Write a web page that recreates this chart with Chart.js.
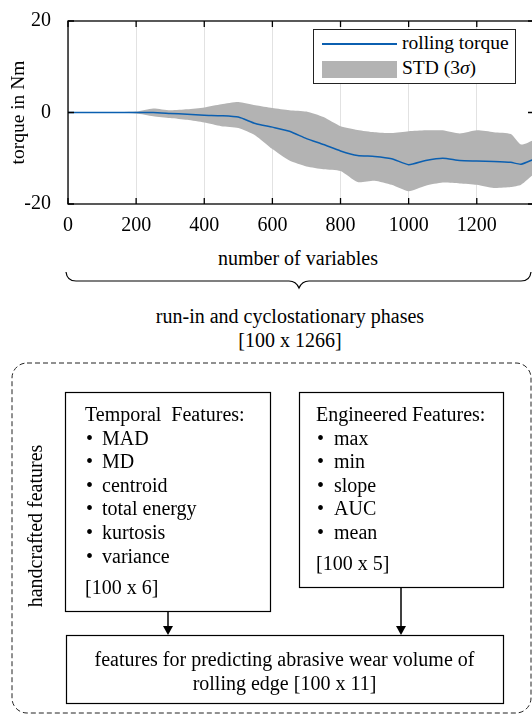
<!DOCTYPE html>
<html>
<head>
<meta charset="utf-8">
<script src="https://cdn.jsdelivr.net/npm/chart.js@4.4.1/dist/chart.umd.min.js"></script>
<style>
html, body { margin: 0; padding: 0; width: 532px; height: 714px; overflow: hidden; background: #fff; }
body { position: relative; font-family: 'Liberation Serif', 'Times New Roman', serif; color: #000; }
#plot { position: absolute; left: 0; top: 0; }
.t { position: absolute; font-size: 20px; line-height: 24px; white-space: pre; }
.c { text-align: center; }
.blk { position: absolute; font-size: 20px; line-height: 23.6px; }
.blk div { white-space: pre; }
.b { display: inline-block; width: 17px; padding-left: 1px; box-sizing: border-box; }
.b2 { display: inline-block; width: 18px; padding-left: 1px; box-sizing: border-box; }
#legend { position: absolute; left: 313px; top: 29px; width: 203px; height: 55px; border: 1px solid #222; background: #fff; box-sizing: border-box; }
svg { position: absolute; left: 0; top: 0; }
</style>
</head>
<body>
<canvas id="plot" width="536" height="240"></canvas>

<div id="legend"></div>
<div style="position:absolute;left:322px;top:43px;width:75px;height:1.5px;background:#0b5fb0"></div>
<div style="position:absolute;left:322px;top:61px;width:75px;height:17px;background:#b3b3b3"></div>
<div class="t" style="left:402px;top:31px;font-size:19.5px">rolling torque</div>
<div class="t" style="left:402px;top:56px;font-size:19.5px">STD (3<i>σ</i>)</div>

<div class="t c" style="left:148px;width:300px;top:246px">number of variables</div>
<div class="t c" style="left:90px;width:400px;top:304px">run-in and cyclostationary phases</div>
<div class="t c" style="left:90px;width:400px;top:328px">[100 x 1266]</div>

<svg width="532" height="714" viewBox="0 0 532 714">
  <path d="M66,272 Q67,281 76,281 L289,281 Q296,281 299,288 Q302,281 309,281 L521,281 Q530,281 531,272" fill="none" stroke="#000" stroke-width="1.2"/>
  <rect x="12" y="363" width="519" height="350" rx="15" ry="15" fill="none" stroke="#222" stroke-width="1" stroke-dasharray="5 3"/>
  <rect x="65.5" y="392.5" width="205" height="219" fill="none" stroke="#000" stroke-width="1.2"/>
  <rect x="299.5" y="392.5" width="204" height="195" fill="none" stroke="#000" stroke-width="1.2"/>
  <rect x="66.5" y="635.5" width="437" height="68" fill="none" stroke="#000" stroke-width="1.2"/>
  <line x1="168" y1="612" x2="168" y2="628" stroke="#000" stroke-width="1.5"/>
  <polygon points="163,626 173,626 168,635" fill="#000"/>
  <line x1="401" y1="588" x2="401" y2="628" stroke="#000" stroke-width="1.5"/>
  <polygon points="396,626 406,626 401,635" fill="#000"/>
</svg>

<div class="t c" style="left:-65px;width:200px;top:514px;transform:rotate(-90deg)">handcrafted features</div>

<div class="blk" style="left:85px;top:403px"><div>Temporal  Features:</div><div><span class="b">•</span>MAD</div><div><span class="b">•</span>MD</div><div><span class="b">•</span>centroid</div><div><span class="b">•</span>total energy</div><div><span class="b">•</span>kurtosis</div><div><span class="b">•</span>variance</div><div style="margin-top:8px">[100 x 6]</div></div>

<div class="blk" style="left:316px;top:403px"><div>Engineered Features:</div><div><span class="b2">•</span>max</div><div><span class="b2">•</span>min</div><div><span class="b2">•</span>slope</div><div><span class="b2">•</span>AUC</div><div><span class="b2">•</span>mean</div><div style="margin-top:7px">[100 x 5]</div></div>

<div class="t c" style="left:66px;width:437px;top:647px">features for predicting abrasive wear volume of</div>
<div class="t c" style="left:66px;width:437px;top:671px">rolling edge [100 x 11]</div>

<script>
// values
const variables = [0, 100, 200, 250, 300, 350, 400, 450, 500, 550, 600, 650, 700, 750, 800, 850, 900, 950, 1000, 1050, 1100, 1150, 1200, 1250, 1300, 1330, 1368];
const rollingTorque = [0, 0, 0, 0, -0.2, -0.4, -0.6, -0.7, -1.0, -2.4, -3.2, -4.1, -5.7, -7.0, -8.4, -9.4, -9.6, -10.1, -11.4, -10.5, -10.0, -10.5, -10.6, -10.7, -10.9, -11.3, -10.2];
const stdUpper = [0, 0, 0.2, 0.9, 0.5, 0.7, 1.1, 1.8, 2.3, 1.6, 1.0, 0.5, 0.2, -1.0, -3.0, -3.8, -4.3, -4.5, -4.1, -3.9, -3.9, -4.6, -3.9, -4.3, -4.7, -7.0, -6.0];
const stdLower = [0, 0, -0.2, -0.8, -1.2, -1.6, -2.2, -3.0, -3.4, -5.0, -8.0, -10.5, -11.8, -12.4, -12.8, -15.2, -14.9, -15.8, -17.2, -16.0, -15.3, -15.5, -15.8, -16.5, -16.3, -15.8, -13.4];
const xTicks = [0, 200, 400, 600, 800, 1000, 1200];
const yTicks = [-20, 0, 20];

const pts = arr => arr.map((v, i) => ({ x: variables[i], y: v }));
const serif = 'Liberation Serif';

const frame = {
    id: 'frame',
    afterDraw(chart) {
        const { ctx, chartArea: a, scales } = chart;
        ctx.save();
        ctx.strokeStyle = '#000';
        ctx.lineWidth = 1.3;
        ctx.strokeRect(a.left, a.top, a.right - a.left, a.bottom - a.top);
        ctx.beginPath();
        xTicks.forEach(v => {
            const px = scales.x.getPixelForValue(v);
            ctx.moveTo(px, a.bottom); ctx.lineTo(px, a.bottom - 6);
            ctx.moveTo(px, a.top); ctx.lineTo(px, a.top + 6);
        });
        yTicks.forEach(v => {
            const py = scales.y.getPixelForValue(v);
            ctx.moveTo(a.left, py); ctx.lineTo(a.left + 6, py);
            ctx.moveTo(a.right, py); ctx.lineTo(a.right - 6, py);
        });
        ctx.stroke();
        ctx.restore();
    }
};

new Chart(document.getElementById('plot'), {
    type: 'line',
    data: {
        datasets: [{
            label: 'rolling torque',
            data: pts(rollingTorque),
            borderColor: '#0b5fb0',
            borderWidth: 1.5,
            pointRadius: 0,
            tension: 0.2,
            fill: false
        }, {
            label: 'STD upper',
            data: pts(stdUpper),
            borderWidth: 0,
            borderColor: 'rgba(0,0,0,0)',
            backgroundColor: '#b3b3b3',
            pointRadius: 0,
            tension: 0.2,
            fill: '+1'
        }, {
            label: 'STD lower',
            data: pts(stdLower),
            borderWidth: 0,
            borderColor: 'rgba(0,0,0,0)',
            pointRadius: 0,
            tension: 0.2,
            fill: false
        }]
    },
    options: {
        responsive: false,
        animation: false,
        devicePixelRatio: 1,
        layout: { padding: { top: 17, right: 2, left: 0, bottom: 0 } },
        plugins: { legend: { display: false }, tooltip: { enabled: false } },
        scales: {
            x: {
                type: 'linear',
                min: 0,
                max: 1368,
                afterFit(scale) { scale.height = 36; },
                afterBuildTicks(scale) { scale.ticks = xTicks.map(v => ({ value: v })); },
                grid: { color: '#e2e2e2', lineWidth: 1, drawTicks: false },
                border: { display: false },
                ticks: { color: '#000', padding: 10, maxRotation: 0, callback: v => String(v), font: { family: serif, size: 20 } }
            },
            y: {
                min: -20,
                max: 20,
                afterFit(scale) { scale.width = 68; },
                afterBuildTicks(scale) { scale.ticks = yTicks.map(v => ({ value: v })); },
                grid: { display: false },
                border: { display: false },
                ticks: { color: '#000', padding: 9, callback: v => String(v), font: { family: serif, size: 20 } },
                title: {
                    display: true,
                    text: 'torque in Nm',
                    color: '#000',
                    padding: { top: 7, bottom: 0 },
                    font: { family: serif, size: 19.5 }
                }
            }
        }
    },
    plugins: [frame]
});
</script>
</body>
</html>
